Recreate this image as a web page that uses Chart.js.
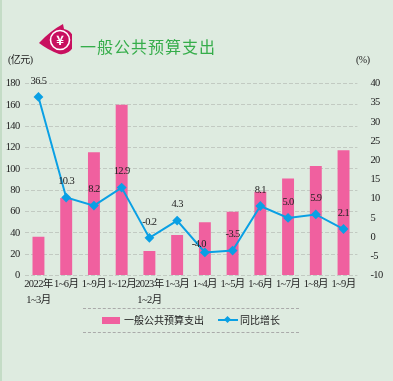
<!DOCTYPE html>
<html lang="zh">
<head>
<meta charset="utf-8">
<title>一般公共预算支出</title>
<script src="https://cdn.jsdelivr.net/npm/chart.js@4"></script>
<style>
  html, body { margin: 0; padding: 0; }
  body { width: 393px; height: 381px; background: #deebe0; position: relative; overflow: hidden;
    font-family: "Liberation Serif", "Noto Sans CJK SC", serif; color: #222; }
  #edge { position: absolute; left: 0; top: 0; width: 2px; height: 381px; background: #c4dcc6; }
  #chart { position: absolute; left: 0; top: 0; }
  #logo { position: absolute; left: 38px; top: 23px; }
  #title { position: absolute; left: 80px; top: 35px; font: 16px/22px "Noto Sans CJK SC"; letter-spacing: 1px; color: #35ad4a; }
  .unit { position: absolute; top: 53px; font-size: 10px; line-height: 14px; letter-spacing: -0.5px; }
  #legend { position: absolute; left: 83px; top: 308px; width: 216px; height: 23px;
    border-top: 1px dashed #aaa; border-bottom: 1px dashed #aaa; font-size: 10px; line-height: 23px; }
  #legend span { position: absolute; top: 0; white-space: nowrap; }
  #legend i { position: absolute; display: block; }
</style>
</head>
<body>
<div id="edge"></div>
<canvas id="chart" width="393" height="381"></canvas>
<svg id="logo" width="34" height="32" viewBox="0 0 34 32">
  <path d="M1 20 Q12 8 25 1 L26 6 A11.5 11.5 0 0 1 21 31 Q10 27 1 20 Z" fill="#c8105f"/>
  <circle cx="22" cy="17" r="9.5" fill="#c8105f" stroke="#fff" stroke-width="1.6"/>
  <text x="22" y="21.5" text-anchor="middle" font-size="13" font-weight="bold" fill="#fff" font-family="Noto Sans CJK SC">¥</text>
</svg>
<div id="title">一般公共预算支出</div>
<div class="unit" style="left:8px">(亿元)</div>
<div class="unit" style="left:356px">(%)</div>
<div id="legend"></div>
<script>
const categories = [["2022年", "1~3月"], "1~6月", "1~9月", "1~12月", ["2023年", "1~2月"], "1~3月", "1~4月", "1~5月", "1~6月", "1~7月", "1~8月", "1~9月"];
const spending = [36.4, 72.7, 115.5, 160, 23, 38, 50, 59.8, 78.6, 91, 102.6, 117.4];
const growth = [36.5, 10.3, 8.2, 12.9, -0.2, 4.3, -4.0, -3.5, 8.1, 5.0, 5.9, 2.1];
const leftTicks = [0, 20, 40, 60, 80, 100, 120, 140, 160, 180];
const rightTicks = [-10, -5, 0, 5, 10, 15, 20, 25, 30, 35, 40];

const barLabel = "一般公共预算支出";
const lineLabel = "同比增长";
const pink = "#f0609f";
const blue = "#0aa0e4";
const tickFont = { family: '"Liberation Serif", "Noto Sans CJK SC", serif', size: 10.5, lineHeight: 1.52 };

// tick text in the picture is condensed
const tightText = {
  id: "tightText",
  beforeDraw(chart) { chart.ctx.letterSpacing = "-0.6px"; },
};

// value labels above the growth line
const lineValues = {
  id: "lineValues",
  afterDatasetsDraw(chart) {
    const ctx = chart.ctx;
    const pts = chart.getDatasetMeta(1).data;
    ctx.save();
    ctx.font = '10.5px "Liberation Serif", serif';
    ctx.fillStyle = "#222";
    ctx.textAlign = "center";
    ctx.textBaseline = "middle";
    pts.forEach((p, i) => {
      const nudgeX = i === 6 ? -6 : 0;
      const nudgeY = i === 6 ? -8 : -16;
      ctx.fillText(growth[i].toFixed(1), p.x + nudgeX, p.y + nudgeY);
    });
    ctx.restore();
  },
};

new Chart(document.getElementById("chart").getContext("2d"), {
  data: {
    labels: categories,
    datasets: [
      { type: "bar", label: barLabel, data: spending, yAxisID: "y", backgroundColor: pink, barPercentage: 0.43, categoryPercentage: 1, order: 2 },
      { type: "line", label: lineLabel, data: growth, yAxisID: "y1", borderColor: blue, backgroundColor: blue, borderWidth: 2, tension: 0,
        pointStyle: "rectRot", pointRadius: 3.5, order: 1 },
    ],
  },
  options: {
    responsive: false,
    animation: false,
    layout: { padding: { top: 83.5 } },
    plugins: { legend: { display: false }, tooltip: { enabled: false } },
    scales: {
      x: {
        grid: { display: false },
        border: { display: false },
        ticks: { color: "#222", font: tickFont, maxRotation: 0, autoSkip: false, padding: -7 },
        afterFit: (s) => { s.height = 105.5; },
      },
      y: {
        position: "left",
        min: 0,
        max: 180,
        afterBuildTicks: (s) => { s.ticks = leftTicks.map((value) => ({ value })); },
        grid: { color: "#c2cac2", drawTicks: false },
        border: { display: false, dash: [4, 2] },
        ticks: { color: "#222", font: tickFont, padding: 5 },
        afterFit: (s) => { s.width = 24.6; },
      },
      y1: {
        position: "right",
        min: -10,
        max: 40,
        afterBuildTicks: (s) => { s.ticks = rightTicks.map((value) => ({ value })); },
        grid: { display: false },
        border: { display: false },
        ticks: { color: "#222", font: tickFont, padding: 5 },
        afterFit: (s) => { s.width = 35.6; },
      },
    },
  },
  plugins: [tightText, lineValues],
});

document.getElementById("legend").innerHTML =
  `<i style="left:19px;top:8px;width:18px;height:7px;background:${pink}"></i>` +
  `<span style="left:41px">${barLabel}</span>` +
  `<i style="left:135px;top:10px;width:20px;height:2px;background:${blue}"></i>` +
  `<i style="left:142px;top:8px;width:5px;height:5px;background:${blue};transform:rotate(45deg)"></i>` +
  `<span style="left:157px">${lineLabel}</span>`;
</script>
</body>
</html>
